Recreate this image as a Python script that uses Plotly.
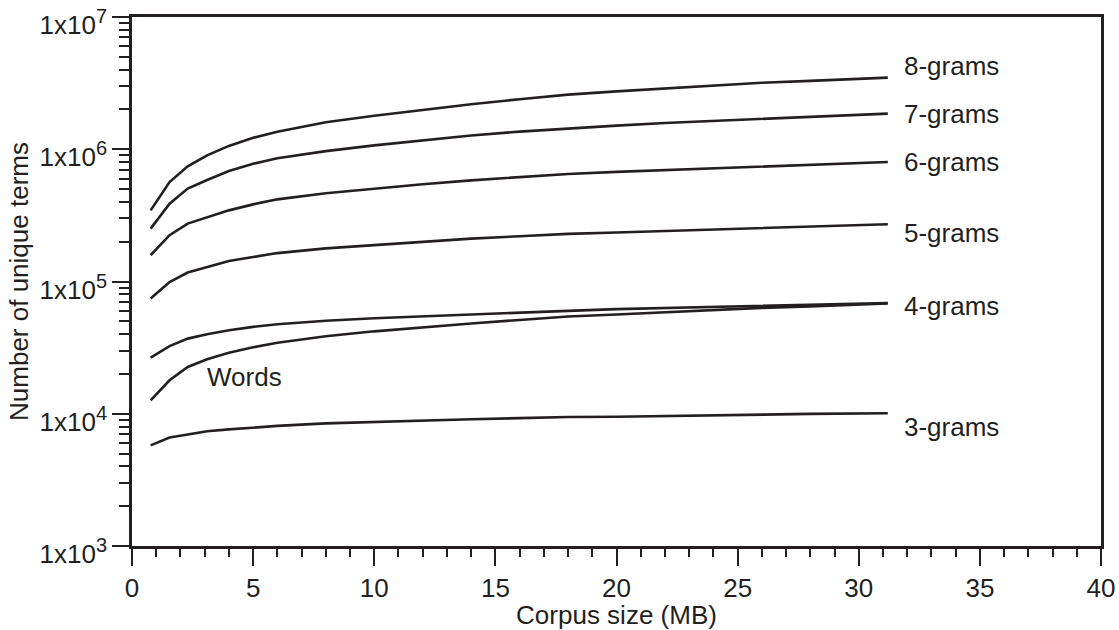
import math
import plotly.graph_objects as go

corpus_mb = [0.77, 1.55, 2.3, 3.1, 4, 5, 6, 8, 10, 12, 14, 16, 18, 20, 22, 24, 26, 28, 31.2]

grams8 = [3.45e5, 5.65e5, 7.43e5, 9.0e5, 1.06e6, 1.22e6, 1.355e6, 1.60e6, 1.79e6, 1.99e6,
          2.19e6, 2.39e6, 2.59e6, 2.74e6, 2.88e6, 3.03e6, 3.18e6, 3.29e6, 3.48e6]
grams7 = [2.51e5, 3.88e5, 5.04e5, 5.86e5, 6.84e5, 7.76e5, 8.54e5, 9.68e5, 1.07e6, 1.17e6,
          1.27e6, 1.36e6, 1.44e6, 1.51e6, 1.58e6, 1.64e6, 1.71e6, 1.77e6, 1.86e6]
grams6 = [1.58e5, 2.24e5, 2.74e5, 3.05e5, 3.45e5, 3.83e5, 4.18e5, 4.65e5, 5.04e5, 5.43e5,
          5.82e5, 6.16e5, 6.50e5, 6.74e5, 6.96e5, 7.19e5, 7.43e5, 7.64e5, 8.01e5]
grams5 = [7.43e4, 9.91e4, 1.17e5, 1.29e5, 1.43e5, 1.53e5, 1.64e5, 1.78e5, 1.88e5, 2.0e5,
          2.11e5, 2.20e5, 2.29e5, 2.35e5, 2.41e5, 2.47e5, 2.54e5, 2.60e5, 2.71e5]
grams4 = [2.66e4, 3.25e4, 3.70e4, 3.99e4, 4.28e4, 4.54e4, 4.75e4, 5.05e4, 5.27e4, 5.46e4,
          5.65e4, 5.83e4, 6.00e4, 6.18e4, 6.29e4, 6.41e4, 6.54e4, 6.67e4, 6.88e4]
words = [1.26e4, 1.79e4, 2.26e4, 2.58e4, 2.89e4, 3.18e4, 3.44e4, 3.85e4, 4.20e4, 4.51e4,
         4.81e4, 5.12e4, 5.43e4, 5.63e4, 5.85e4, 6.09e4, 6.32e4, 6.49e4, 6.81e4]
grams3 = [5.77e3, 6.61e3, 6.97e3, 7.37e3, 7.62e3, 7.90e3, 8.09e3, 8.45e3, 8.69e3, 8.89e3,
          9.08e3, 9.27e3, 9.45e3, 9.50e3, 9.63e3, 9.77e3, 9.89e3, 9.97e3, 1.01e4]

series_names = ["8-grams", "7-grams", "6-grams", "5-grams", "4-grams", "Words", "3-grams"]
series_values = [grams8, grams7, grams6, grams5, grams4, words, grams3]

# label anchor positions (x in MB, y in value)
label_x = [31.8, 31.8, 31.8, 31.8, 31.8, 3.0, 31.8]
label_y = [4.25e6, 1.86e6, 8.05e5, 2.32e5, 6.49e4, 1.90e4, 7.94e3]

y_major = [1e3, 1e4, 1e5, 1e6, 1e7]
y_exponents = ["3", "4", "5", "6", "7"]
y_minor = [m * 10 ** e for e in range(3, 7) for m in range(2, 10)]

INK = "#231f20"
FONT = "Liberation Sans, Arial, sans-serif"
FS = 26

y_major_text = ['1x10<sup><span style="font-size:20px">%s</span></sup>' % e for e in y_exponents]

fig = go.Figure()
for name, vals in zip(series_names, series_values):
    fig.add_trace(go.Scatter(x=corpus_mb, y=vals, mode="lines", name=name,
                             line=dict(color=INK, width=2.6), showlegend=False))

for name, lx, ly in zip(series_names, label_x, label_y):
    fig.add_annotation(x=lx, y=math.log10(ly), yref="y", xref="x", text=name, showarrow=False,
                       xanchor="left", yanchor="middle",
                       font=dict(family=FONT, size=FS, color=INK))

fig.update_layout(
    width=1119, height=630,
    margin=dict(l=132, r=18, t=17, b=84, autoexpand=False),
    paper_bgcolor="white", plot_bgcolor="white",
    font=dict(family=FONT, size=FS, color=INK),
)
fig.update_xaxes(
    range=[0, 40], tickmode="linear", tick0=0, dtick=5, automargin=False,
    ticks="outside", ticklen=17, tickwidth=1.5, tickcolor=INK,
    minor=dict(tickmode="linear", tick0=0, dtick=1, ticks="outside", ticklen=8,
               tickwidth=1.5, tickcolor=INK, showgrid=False),
    showline=True, linecolor=INK, linewidth=2.6, mirror=True,
    showgrid=False, zeroline=False, ticklabeloverflow="allow",
    tickfont=dict(family=FONT, size=FS, color=INK),
    title=dict(text="Corpus size (MB)", font=dict(family=FONT, size=FS, color=INK), standoff=9),
)
fig.update_yaxes(
    type="log", range=[3, 7], automargin=False,
    tickmode="array", tickvals=y_major, ticktext=y_major_text,
    ticks="outside", ticklen=17, tickwidth=1.5, tickcolor=INK,
    minor=dict(tickmode="array", tickvals=y_minor, ticks="outside", ticklen=10,
               tickwidth=1.5, tickcolor=INK, showgrid=False),
    showline=True, linecolor=INK, linewidth=2.6, mirror=True,
    showgrid=False, zeroline=False, ticklabeloverflow="allow", ticklabelshift=8,
    tickfont=dict(family=FONT, size=FS, color=INK),
    title=dict(text="Number of unique terms", font=dict(family=FONT, size=FS, color=INK), standoff=4),
)

fig.write_html("out.html")
